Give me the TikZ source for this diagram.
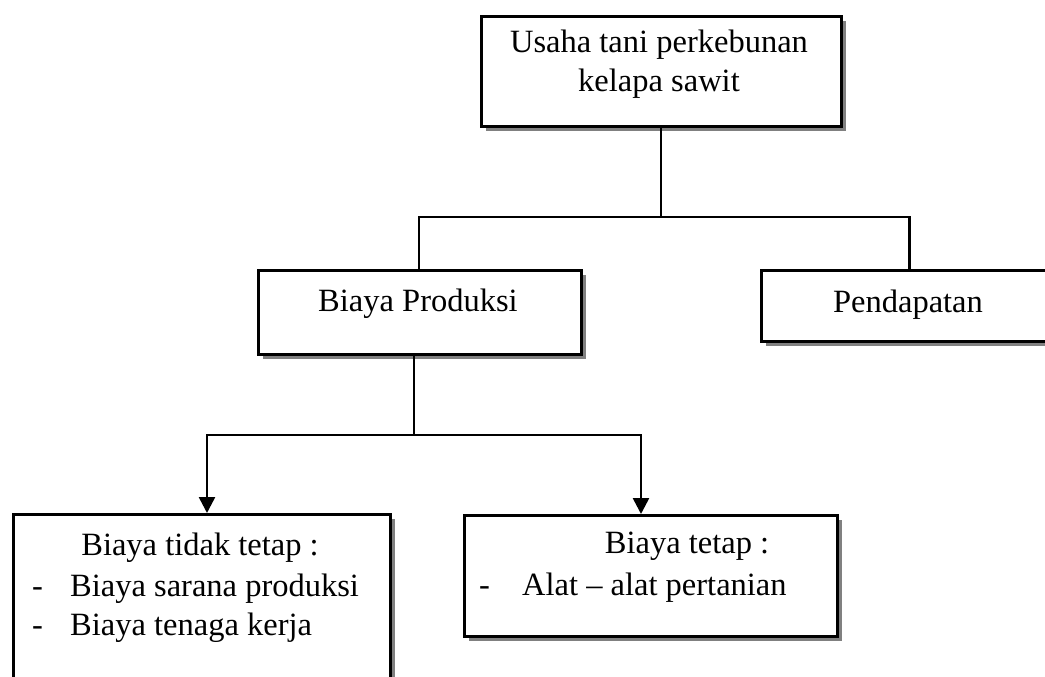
\documentclass[tikz,border=0pt]{standalone}
\usepackage{fontspec}
\setmainfont{Liberation Serif}
\usetikzlibrary{shadows,arrows.meta}
\begin{document}
\begin{tikzpicture}[x=1pt,y=-1pt,
  box/.style={draw=black,line width=2.8pt,fill=white,rectangle,inner sep=0pt,anchor=north west,
    drop shadow={shadow xshift=4.5pt,shadow yshift=-4.5pt,fill=black!50,opacity=1}},
  txt/.style={inner sep=0pt,anchor=base,font=\fontsize{32.5}{38}\selectfont},
  txtl/.style={txt,anchor=base west},
  conn/.style={line width=2.6pt,line cap=rect},
  arr/.style={line width=2.6pt,-{Triangle[width=16pt,length=16pt]}}]
\useasboundingbox (0,0) rectangle (1045,677);
\clip (0,0) rectangle (1045,677);
% boxes
\node[box,minimum width=360pt,minimum height=110pt] (top) at (480,15) {};
\node[box,minimum width=323pt,minimum height=84pt] (bp) at (257,269) {};
\node[box,minimum width=296pt,minimum height=71pt] (pend) at (760,269) {};
\node[box,minimum width=377pt,minimum height=200pt] (lb) at (12,513) {};
\node[box,minimum width=373pt,minimum height=121pt] (rb) at (463,514) {};
% texts
\node[txt] (t1) at (659,53) {Usaha tani perkebunan};
\node[txt] (t2) at (659,92) {kelapa sawit};
\node[txt] (tbp) at (418,311) {Biaya Produksi};
\node[txt] (tpend) at (908,312) {Pendapatan};
\node[txt] (l1) at (200,555) {Biaya tidak tetap :};
\node[txtl] (l2d) at (32,596) {-};
\node[txtl] (l2) at (70,596) {Biaya sarana produksi};
\node[txtl] (l3d) at (32,635) {-};
\node[txtl] (l3) at (70,635) {Biaya tenaga kerja};
\node[txt] (r1) at (687,553) {Biaya tetap :};
\node[txtl] (r2d) at (479,595) {-};
\node[txtl] (r2) at (522,595) {Alat -- alat pertanian};
% connectors
\coordinate (j1) at (661,217);
\coordinate (j2) at (414,435);
\coordinate (la) at (207,513);
\coordinate (ra) at (641,514);
\draw[conn] (top.south -| j1) -- (j1);
\draw[conn] ([xshift=-1pt]bp.north) |- (j1) -| (pend.north);
\draw[conn] (bp.south -| j2) -- (j2);
\draw[arr] (j2) -| (la);
\draw[arr] (j2) -| (ra);
\end{tikzpicture}
\end{document}
